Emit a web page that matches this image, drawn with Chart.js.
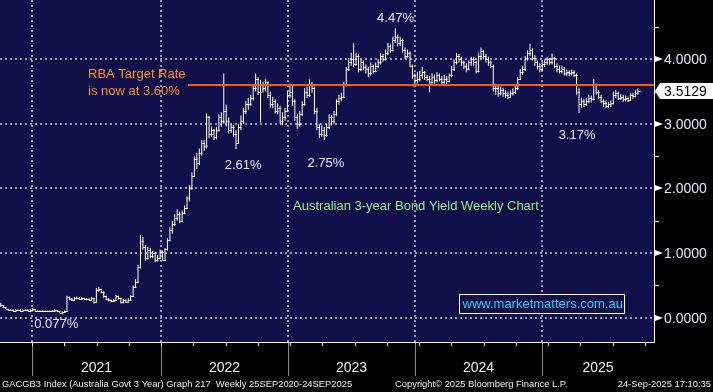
<!DOCTYPE html>
<html>
<head>
<meta charset="utf-8">
<title>Australian 3-year Bond Yield Weekly Chart</title>
<script src="https://cdn.jsdelivr.net/npm/chart.js@4.4.1/dist/chart.umd.min.js"></script>
<style>
  html, body { margin: 0; padding: 0; background: #000; }
  canvas { display: block; }
</style>
</head>
<body>
<canvas id="yieldChart" width="713" height="392"></canvas>
<script>
//----------------------
// Weekly data, GACGB3 Index (25 Sep 2020 - 24 Sep 2025)
//----------------------

const closes = [
  0.20,0.16,0.14,0.12,0.12,0.11,0.12,0.12,0.11,0.12,
  0.12,0.11,0.12,0.13,0.11,0.10,0.10,0.10,0.10,0.10,
  0.10,0.11,0.12,0.10,0.08,0.09,0.10,0.32,0.29,0.28,
  0.30,0.31,0.29,0.30,0.29,0.29,0.28,0.30,0.24,0.43,
  0.44,0.40,0.33,0.29,0.27,0.26,0.27,0.33,0.30,0.24,
  0.27,0.25,0.28,0.33,0.48,0.56,0.78,1.18,1.10,0.93,
  1.05,0.95,1.00,0.90,0.92,1.02,0.90,1.06,1.20,1.35,
  1.45,1.55,1.60,1.50,1.62,1.70,1.85,2.00,2.20,2.45,
  2.40,2.55,2.70,2.65,3.10,2.85,2.90,2.80,2.90,3.10,
  3.05,3.20,3.05,2.90,2.95,2.85,2.70,2.95,3.05,3.20,
  3.30,3.30,3.40,3.55,3.70,3.50,3.60,3.55,3.65,3.45,
  3.30,3.35,3.20,3.25,3.05,3.10,3.20,3.45,3.50,3.35,
  3.10,3.00,3.15,3.30,3.50,3.45,3.60,3.55,3.20,2.95,
  2.85,2.90,2.82,2.95,3.10,3.05,3.15,3.35,3.40,3.42,
  3.60,3.85,3.95,4.00,3.92,4.05,3.85,3.95,3.88,3.85,
  3.78,3.90,3.82,3.90,3.95,4.05,4.00,4.10,4.20,4.15,
  4.30,4.35,4.25,4.30,4.15,4.05,4.10,3.90,3.75,3.68,
  3.70,3.75,3.80,3.72,3.70,3.65,3.72,3.68,3.75,3.70,
  3.65,3.70,3.66,3.75,3.85,3.95,4.05,4.00,3.95,3.90,
  3.85,3.95,4.00,3.95,3.82,4.05,4.12,4.05,4.00,3.95,
  3.90,3.55,3.55,3.48,3.52,3.47,3.45,3.42,3.48,3.50,
  3.55,3.70,3.80,3.85,4.02,4.10,4.15,4.02,3.95,3.90,
  3.85,3.92,3.95,4.00,3.95,4.02,3.90,3.85,3.82,3.85,
  3.78,3.80,3.78,3.80,3.75,3.50,3.30,3.35,3.30,3.35,
  3.40,3.38,3.60,3.50,3.42,3.35,3.32,3.28,3.30,3.32,
  3.45,3.47,3.40,3.42,3.38,3.40,3.37,3.45,3.43,3.47,
  3.5129
];

const highs = [
  0.23,0.20,0.16,0.14,0.13,0.13,0.13,0.13,0.13,0.13,
  0.13,0.13,0.13,0.15,0.13,0.12,0.11,0.11,0.11,0.11,
  0.11,0.12,0.13,0.12,0.10,0.10,0.11,0.34,0.33,0.31,
  0.32,0.33,0.32,0.32,0.31,0.31,0.30,0.32,0.30,0.46,
  0.47,0.45,0.41,0.34,0.30,0.28,0.29,0.35,0.34,0.31,
  0.29,0.28,0.30,0.35,0.50,0.60,0.82,1.28,1.25,1.12,
  1.10,1.08,1.04,1.02,0.97,1.05,1.04,1.08,1.23,1.40,
  1.50,1.60,1.68,1.64,1.66,1.74,1.88,2.05,2.25,2.50,
  2.55,2.62,2.75,2.75,3.16,3.12,2.96,2.92,2.95,3.15,
  3.18,3.78,3.30,3.10,3.00,2.98,2.90,3.00,3.13,3.25,
  3.35,3.40,3.45,3.60,3.78,3.72,3.68,3.65,3.70,3.66,
  3.50,3.42,3.38,3.32,3.28,3.18,3.25,3.50,3.62,3.60,
  3.38,3.15,3.20,3.35,3.55,3.58,3.70,3.65,3.58,3.25,
  3.00,2.98,2.95,3.00,3.15,3.14,3.20,3.38,3.45,3.48,
  3.65,3.88,4.02,4.10,4.25,4.10,4.08,4.00,3.98,3.92,
  3.88,3.95,3.92,3.95,4.00,4.10,4.08,4.15,4.25,4.24,
  4.35,4.48,4.38,4.35,4.32,4.18,4.15,4.12,3.92,3.78,
  3.80,3.82,3.88,3.82,3.76,3.74,3.78,3.76,3.80,3.78,
  3.74,3.76,3.74,3.78,3.90,4.00,4.10,4.08,4.04,3.98,
  3.94,3.98,4.04,4.03,3.98,4.10,4.18,4.14,4.08,4.04,
  3.98,3.92,3.62,3.60,3.58,3.56,3.52,3.50,3.52,3.55,
  3.60,3.72,3.85,3.90,4.05,4.14,4.24,4.17,4.06,3.98,
  3.94,3.96,4.00,4.04,4.02,4.09,4.04,3.94,3.90,3.90,
  3.88,3.84,3.83,3.84,3.83,3.78,3.55,3.40,3.38,3.40,
  3.45,3.44,3.69,3.62,3.52,3.45,3.38,3.36,3.34,3.36,
  3.50,3.52,3.50,3.46,3.45,3.44,3.42,3.48,3.48,3.52,
  3.55
];

const lows = [
  0.17,0.15,0.13,0.11,0.11,0.10,0.11,0.11,0.10,0.11,
  0.11,0.10,0.11,0.11,0.10,0.09,0.09,0.09,0.09,0.09,
  0.09,0.10,0.10,0.09,0.07,0.08,0.09,0.10,0.27,0.26,
  0.27,0.28,0.28,0.28,0.28,0.27,0.27,0.27,0.22,0.24,
  0.40,0.38,0.31,0.27,0.25,0.24,0.25,0.26,0.28,0.22,
  0.22,0.23,0.24,0.27,0.32,0.46,0.55,0.76,1.05,0.88,
  0.90,0.92,0.92,0.86,0.87,0.90,0.88,0.88,1.04,1.18,
  1.30,1.42,1.50,1.46,1.48,1.60,1.68,1.80,1.98,2.18,
  2.30,2.36,2.50,2.58,2.62,2.78,2.80,2.75,2.76,2.88,
  2.95,3.00,2.96,2.85,2.86,2.80,2.61,2.70,2.90,3.00,
  3.15,3.22,3.28,3.36,3.50,3.45,3.02,3.48,3.50,3.40,
  3.25,3.24,3.16,3.15,3.00,2.98,3.05,3.18,3.40,3.28,
  3.05,2.92,2.95,3.12,3.28,3.40,3.42,3.48,3.15,2.90,
  2.78,2.80,2.75,2.80,2.92,2.98,3.00,3.12,3.30,3.35,
  3.40,3.58,3.82,3.90,3.88,3.90,3.80,3.82,3.83,3.78,
  3.72,3.75,3.78,3.80,3.86,3.92,3.96,3.98,4.06,4.10,
  4.12,4.25,4.20,4.20,4.10,4.00,4.02,3.88,3.70,3.57,
  3.62,3.66,3.70,3.68,3.66,3.49,3.62,3.62,3.64,3.66,
  3.60,3.62,3.59,3.64,3.72,3.82,3.92,3.95,3.90,3.85,
  3.80,3.83,3.90,3.90,3.78,3.80,4.00,4.00,3.95,3.90,
  3.86,3.50,3.45,3.42,3.44,3.42,3.40,3.38,3.40,3.44,
  3.46,3.52,3.68,3.76,3.82,3.98,4.05,3.98,3.90,3.84,
  3.80,3.82,3.88,3.92,3.92,3.92,3.86,3.80,3.78,3.78,
  3.75,3.74,3.74,3.75,3.72,3.45,3.17,3.25,3.26,3.28,
  3.32,3.33,3.36,3.45,3.38,3.32,3.26,3.24,3.25,3.26,
  3.30,3.40,3.37,3.37,3.34,3.35,3.34,3.36,3.39,3.41,
  3.45
];

// x axis: year labels and the week index where each year starts
const yearLabels = ['2021', '2022', '2023', '2024', '2025'];
const yearStarts = [12.73, 65.39, 117.22, 169.06, 220.9];

// y axis tick labels
const yTickValues = [0, 1, 2, 3, 4];
const yMinorTicks = [0.5, 1.5, 2.5, 3.5, 4.5];

const rbaRate = 3.60;

//----------------------
// Colours / fonts
//----------------------

const NAVY = '#110f4a';
const GRID = '#9a9aa6';
const LABEL = '#dfe7fb';
const FONT = '"Liberation Sans", Arial, sans-serif';

// text notes placed on the chart in data space (week, value)
const notes = [
  { text: '4.47%', week: 161.1, value: 4.63, align: 'center', color: LABEL },
  { text: '2.61%', week: 98.9, value: 2.36, align: 'center', color: LABEL },
  { text: '2.75%', week: 132.7, value: 2.39, align: 'center', color: LABEL },
  { text: '3.17%', week: 235.2, value: 2.82, align: 'center', color: LABEL },
  { text: '0.077%', week: 13.6, value: -0.11, align: 'left', color: LABEL },
  { text: 'RBA Target Rate', week: 35.6, value: 3.76, align: 'left', color: '#f7902a' },
  { text: 'is now at 3.60%', week: 35.6, value: 3.50, align: 'left', color: '#f7902a' },
  { text: 'Australian 3-year Bond Yield Weekly Chart', week: 119.3, value: 1.73, align: 'left', color: '#93ee8e' }
];

// build the floating high/low bars (open = previous close)
const opens = closes.map((c, i) => i === 0 ? c : closes[i - 1]);
const barData = closes.map((c, i) => ({
  x: i,
  y: [Math.min(lows[i], opens[i], c), Math.max(highs[i], opens[i], c)]
}));

function crisp(v) { return Math.round(v) + 0.5; }

const bloombergLook = {
  id: 'bloombergLook',
  beforeDraw(chart) {
    const { ctx, chartArea: a } = chart;
    ctx.save();
    ctx.fillStyle = '#000';
    ctx.fillRect(0, 0, chart.width, chart.height);
    ctx.fillStyle = NAVY;
    ctx.fillRect(a.left, a.top, a.right - a.left, a.bottom - a.top);
    ctx.restore();
  },
  beforeDatasetsDraw(chart) {
    const { ctx, chartArea: a, scales: { x, y } } = chart;
    ctx.save();
    ctx.strokeStyle = GRID;
    ctx.lineWidth = 2;
    ctx.setLineDash([2, 3]);
    yTickValues.forEach(v => {
      const py = Math.round(y.getPixelForValue(v));
      ctx.beginPath();
      ctx.moveTo(a.left, py);
      ctx.lineTo(a.right, py);
      ctx.stroke();
    });
    yearStarts.forEach(w => {
      const px = Math.round(x.getPixelForValue(w));
      ctx.beginPath();
      ctx.moveTo(px, a.top);
      ctx.lineTo(px, a.bottom);
      ctx.stroke();
    });
    ctx.restore();
  },
  afterDatasetsDraw(chart) {
    const { ctx, chartArea: a, scales: { x, y } } = chart;
    const meta = chart.getDatasetMeta(0);
    ctx.save();

    // open / close ticks
    ctx.strokeStyle = '#fff';
    ctx.lineWidth = 1;
    ctx.beginPath();
    meta.data.forEach((bar, i) => {
      const bx = Math.round(bar.x);
      const yo = crisp(y.getPixelForValue(opens[i]));
      const yc = crisp(y.getPixelForValue(closes[i]));
      ctx.moveTo(bx - 2, yo);
      ctx.lineTo(bx + 0.5, yo);
      ctx.moveTo(bx, yc);
      ctx.lineTo(bx + 3, yc);
    });
    ctx.stroke();

    // RBA target rate line
    const rbaY = y.getPixelForValue(rbaRate);
    ctx.strokeStyle = '#ff5a0a';
    ctx.lineWidth = 2;
    ctx.beginPath();
    ctx.moveTo(x.getPixelForValue(76.4), rbaY);
    ctx.lineTo(a.right, rbaY);
    ctx.stroke();

    // notes
    ctx.font = '13px ' + FONT;
    ctx.textBaseline = 'middle';
    notes.forEach(n => {
      ctx.fillStyle = n.color;
      ctx.textAlign = n.align;
      ctx.fillText(n.text, x.getPixelForValue(n.week), y.getPixelForValue(n.value));
    });

    // website box
    const bl = Math.round(x.getPixelForValue(187.0)) + 0.5;
    const br = Math.round(x.getPixelForValue(254.4)) + 0.5;
    const bt = Math.round(y.getPixelForValue(0.366)) + 0.5;
    const bb = Math.round(y.getPixelForValue(0.073)) + 0.5;
    ctx.fillStyle = NAVY;
    ctx.fillRect(bl, bt, br - bl, bb - bt);
    ctx.strokeStyle = '#fff';
    ctx.lineWidth = 1;
    ctx.strokeRect(bl, bt, br - bl, bb - bt);
    ctx.fillStyle = '#1fd6ea';
    ctx.textAlign = 'left';
    ctx.fillText('www.marketmatters.com.au', bl + 3, (bt + bb) / 2 + 0.5);

    // axis frame
    ctx.strokeStyle = '#fff';
    ctx.lineWidth = 1;
    ctx.beginPath();
    ctx.moveTo(a.left, crisp(a.bottom));
    ctx.lineTo(crisp(a.right), crisp(a.bottom));
    ctx.lineTo(crisp(a.right), a.top);
    ctx.stroke();

    // y axis markers and labels
    ctx.fillStyle = '#fff';
    yTickValues.forEach(v => {
      const py = Math.round(y.getPixelForValue(v));
      ctx.beginPath();
      ctx.moveTo(a.right + 1, py - 3);
      ctx.lineTo(a.right + 9, py);
      ctx.lineTo(a.right + 1, py + 3);
      ctx.closePath();
      ctx.fill();
    });
    ctx.beginPath();
    yMinorTicks.forEach(v => {
      const py = crisp(y.getPixelForValue(v));
      ctx.moveTo(a.right, py);
      ctx.lineTo(a.right + 5, py);
    });
    ctx.stroke();
    ctx.fillStyle = LABEL;
    ctx.font = '14px ' + FONT;
    ctx.textAlign = 'left';
    yTickValues.forEach(v => {
      ctx.fillText(v.toFixed(4), a.right + 10, y.getPixelForValue(v) + 1);
    });

    // last value tag
    const last = closes[closes.length - 1];
    const ty = Math.round(y.getPixelForValue(last));
    ctx.fillStyle = '#fff';
    ctx.beginPath();
    ctx.moveTo(a.right + 1, ty);
    ctx.lineTo(a.right + 6, ty - 8);
    ctx.lineTo(chart.width, ty - 8);
    ctx.lineTo(chart.width, ty + 8);
    ctx.lineTo(a.right + 6, ty + 8);
    ctx.closePath();
    ctx.fill();
    ctx.fillStyle = '#000';
    ctx.fillText(last.toFixed(4), a.right + 10, ty + 1);

    // x axis: year boundaries, quarter ticks, year labels
    ctx.strokeStyle = '#8a8a8a';
    ctx.beginPath();
    yearStarts.forEach(w => {
      const px = crisp(x.getPixelForValue(w));
      ctx.moveTo(px, a.bottom + 1);
      ctx.lineTo(px, a.bottom + 34);
    });
    ctx.stroke();
    ctx.strokeStyle = '#fff';
    ctx.beginPath();
    const qStep = (yearStarts[1] - yearStarts[0]) / 4;
    for (let w = yearStarts[0] - 4 * qStep; w < x.max; w += qStep) {
      if (w < x.min) continue;
      const px = crisp(x.getPixelForValue(w));
      ctx.moveTo(px, a.bottom + 1);
      ctx.lineTo(px, a.bottom + 4);
    }
    ctx.stroke();

    ctx.fillStyle = '#f2f2f2';
    ctx.font = '14px ' + FONT;
    ctx.textAlign = 'center';
    yearLabels.forEach((lab, i) => {
      const l = x.getPixelForValue(yearStarts[i]);
      const r = i + 1 < yearStarts.length ? x.getPixelForValue(yearStarts[i + 1]) : a.right;
      ctx.fillText(lab, (l + r) / 2, a.bottom + 26);
    });

    // footer
    ctx.font = '9.4px ' + FONT;
    ctx.fillStyle = '#eeeeee';
    ctx.textAlign = 'left';
    ctx.fillText('GACGB3 Index (Australia Govt 3 Year) Graph 217  Weekly 25SEP2020-24SEP2025', 2, chart.height - 8);
    ctx.fillText('Copyright\u00A9 2025 Bloomberg Finance L.P.', 395, chart.height - 8);
    ctx.textAlign = 'right';
    ctx.fillText('24-Sep-2025 17:10:35', chart.width - 2, chart.height - 8);

    ctx.restore();
  }
};

const ctx = document.getElementById('yieldChart').getContext('2d');
const chart = new Chart(ctx, {
  type: 'bar',
  data: {
    datasets: [{
      label: 'GACGB3',
      data: barData,
      backgroundColor: '#ffffff',
      borderWidth: 0,
      barThickness: 1,
      inflateAmount: 0
    }]
  },
  options: {
    responsive: false,
    animation: false,
    devicePixelRatio: 1,
    layout: { padding: 0 },
    plugins: {
      legend: { display: false },
      tooltip: { enabled: false }
    },
    scales: {
      x: {
        type: 'linear',
        min: -0.33,
        max: 266.6,
        offset: false,
        ticks: { display: false },
        grid: { display: false },
        border: { display: false },
        afterFit: (scale) => { scale.height = 50; }
      },
      y: {
        type: 'linear',
        position: 'right',
        min: -0.376,
        max: 4.917,
        ticks: { display: false },
        grid: { display: false },
        border: { display: false },
        afterFit: (scale) => { scale.width = 59; }
      }
    }
  },
  plugins: [bloombergLook]
});
</script>
</body>
</html>
